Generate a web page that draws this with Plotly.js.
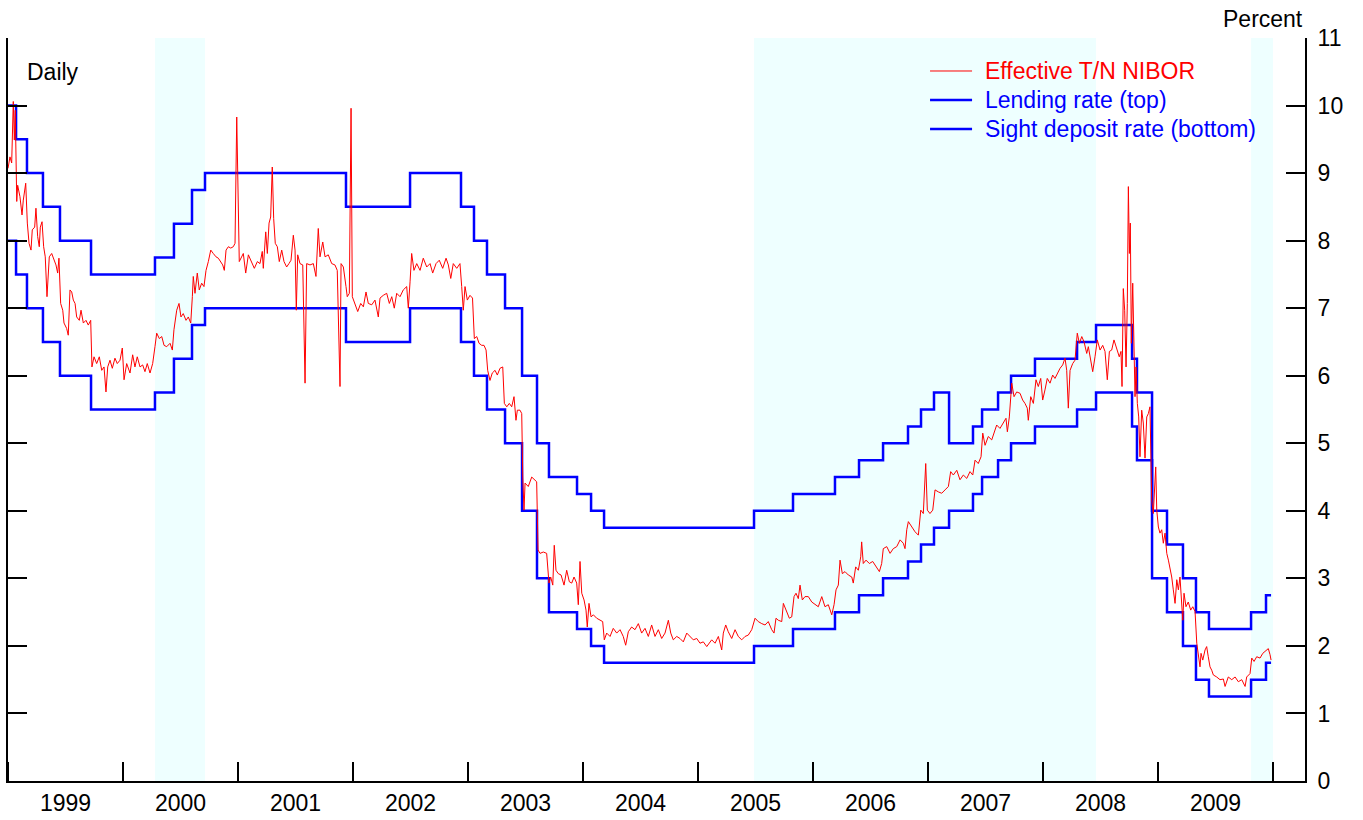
<!DOCTYPE html>
<html>
<head>
<meta charset="utf-8">
<script src="https://cdn.plot.ly/plotly-3.0.1.min.js"></script>
<style>html,body{margin:0;padding:0;background:#fff;}#chart{width:1363px;height:820px;}</style>
</head>
<body>
<div id="chart"></div>
<script>
// Time is in decimal years.
// Effective T/N NIBOR (daily)
const niborYear = [
1999.000,1999.017,1999.032,1999.046,1999.055,1999.063,1999.076,1999.084,1999.104,1999.122,1999.133,1999.154,1999.168,1999.183,1999.200,1999.211,1999.232,1999.243,1999.258,1999.272,1999.281,1999.296,1999.310,1999.324,1999.339,1999.359,1999.380,1999.400,1999.417,1999.432,1999.443,1999.458,1999.476,1999.487,1999.510,1999.524,1999.539,1999.554,1999.568,1999.583,1999.597,1999.620,1999.635,1999.655,1999.678,1999.698,1999.719,1999.730,1999.748,1999.771,1999.794,1999.815,1999.835,1999.852,1999.867,1999.887,1999.907,1999.930,1999.950,1999.974,1999.994,
2000.009,2000.032,2000.061,2000.084,2000.104,2000.124,2000.148,2000.171,2000.191,2000.211,2000.235,2000.258,2000.278,2000.293,2000.316,2000.337,2000.357,2000.380,2000.409,2000.429,2000.443,2000.467,2000.487,2000.504,2000.524,2000.548,2000.568,2000.589,2000.603,2000.611,2000.626,2000.646,2000.663,2000.684,2000.704,2000.722,2000.742,2000.763,2000.785,2000.809,2000.829,2000.850,2000.867,2000.881,2000.896,2000.916,2000.937,2000.959,2000.974,2000.989,
2001.011,2001.017,2001.046,2001.067,2001.090,2001.119,2001.142,2001.168,2001.191,2001.211,2001.220,2001.241,2001.255,2001.270,2001.284,2001.298,2001.310,2001.324,2001.342,2001.359,2001.380,2001.400,2001.423,2001.443,2001.461,2001.481,2001.496,2001.507,2001.519,2001.539,2001.563,2001.583,2001.597,2001.626,2001.655,2001.678,2001.698,2001.713,2001.737,2001.757,2001.785,2001.815,2001.843,2001.863,2001.887,2001.896,2001.916,2001.939,2001.950,2001.968,2001.983,2001.994,
2002.017,2002.041,2002.067,2002.090,2002.113,2002.133,2002.163,2002.191,2002.220,2002.235,2002.263,2002.293,2002.316,2002.337,2002.359,2002.380,2002.409,2002.437,2002.467,2002.481,2002.496,2002.510,2002.530,2002.554,2002.583,2002.611,2002.641,2002.670,2002.693,2002.722,2002.750,2002.780,2002.809,2002.829,2002.850,2002.872,2002.902,2002.930,2002.945,2002.959,2002.974,2002.994,
2003.017,2003.039,2003.055,2003.076,2003.096,2003.119,2003.139,2003.157,2003.171,2003.191,2003.211,2003.235,2003.255,2003.278,2003.302,2003.316,2003.337,2003.359,2003.380,2003.400,2003.417,2003.429,2003.452,2003.467,2003.476,2003.487,2003.496,2003.524,2003.554,2003.574,2003.597,2003.609,2003.626,2003.655,2003.684,2003.704,2003.719,2003.737,2003.750,2003.765,2003.785,2003.809,2003.835,2003.858,2003.881,2003.902,2003.922,2003.945,2003.959,2003.974,2003.989,
2004.009,2004.026,2004.037,2004.052,2004.070,2004.090,2004.119,2004.148,2004.171,2004.185,2004.206,2004.235,2004.263,2004.293,2004.322,2004.350,2004.371,2004.394,2004.423,2004.452,2004.481,2004.510,2004.539,2004.568,2004.597,2004.626,2004.655,2004.684,2004.713,2004.742,2004.763,2004.785,2004.815,2004.843,2004.872,2004.902,2004.930,2004.959,2004.989,
2005.017,2005.046,2005.076,2005.119,2005.148,2005.177,2005.206,2005.220,2005.241,2005.263,2005.293,2005.322,2005.350,2005.380,2005.409,2005.437,2005.467,2005.496,2005.524,2005.554,2005.583,2005.611,2005.641,2005.661,2005.678,2005.698,2005.728,2005.742,2005.771,2005.794,2005.815,2005.835,2005.852,2005.872,2005.887,2005.907,2005.930,2005.959,2005.989,
2006.017,2006.046,2006.076,2006.104,2006.133,2006.163,2006.183,2006.200,2006.220,2006.235,2006.255,2006.278,2006.307,2006.337,2006.350,2006.371,2006.394,2006.415,2006.423,2006.437,2006.461,2006.490,2006.519,2006.548,2006.577,2006.597,2006.611,2006.641,2006.670,2006.698,2006.728,2006.757,2006.785,2006.800,2006.815,2006.829,2006.858,2006.887,2006.916,2006.937,2006.959,2006.980,2006.994,
2007.017,2007.041,2007.061,2007.090,2007.119,2007.148,2007.177,2007.197,2007.220,2007.250,2007.278,2007.307,2007.337,2007.365,2007.389,2007.409,2007.437,2007.461,2007.476,2007.496,2007.524,2007.554,2007.583,2007.597,2007.626,2007.655,2007.678,2007.690,2007.707,2007.728,2007.748,2007.771,2007.800,2007.823,2007.843,2007.863,2007.872,2007.893,2007.916,2007.939,2007.959,2007.980,2007.997,
2008.017,2008.037,2008.061,2008.084,2008.104,2008.124,2008.148,2008.171,2008.191,2008.206,2008.220,2008.235,2008.258,2008.278,2008.298,2008.316,2008.337,2008.357,2008.380,2008.394,2008.415,2008.432,2008.452,2008.472,2008.496,2008.519,2008.539,2008.559,2008.577,2008.597,2008.617,2008.641,2008.663,2008.678,2008.687,2008.698,2008.710,2008.722,2008.733,2008.742,2008.751,2008.759,2008.768,2008.780,2008.791,2008.800,2008.809,2008.820,2008.832,2008.843,2008.858,2008.872,2008.887,2008.902,2008.916,2008.930,2008.945,2008.959,2008.980,2008.989,
2009.003,2009.017,2009.032,2009.046,2009.061,2009.076,2009.090,2009.104,2009.119,2009.133,2009.148,2009.163,2009.177,2009.191,2009.206,2009.215,2009.226,2009.243,2009.263,2009.284,2009.302,2009.322,2009.337,2009.351,2009.365,2009.374,2009.389,2009.409,2009.423,2009.437,2009.452,2009.467,2009.481,2009.510,2009.539,2009.568,2009.583,2009.611,2009.641,2009.670,2009.698,2009.728,2009.757,2009.771,2009.800,2009.815,2009.835,2009.858,2009.887,2009.911,2009.941,2009.959,2009.974,2009.983
];
const niborRate = [
9.07,9.24,9.15,10.06,9.49,9.93,8.58,8.82,8.65,8.38,8.60,8.85,8.26,7.96,7.86,8.16,8.20,8.48,8.06,7.91,8.20,8.28,7.91,7.76,7.17,7.76,7.81,7.71,7.64,7.52,7.74,7.07,6.97,6.78,6.70,6.60,7.27,7.24,7.12,7.07,6.87,6.82,6.97,6.78,6.82,6.75,6.82,6.13,6.28,6.18,6.28,6.08,6.13,5.76,6.13,6.23,6.11,6.26,6.18,6.23,6.41,
5.94,6.18,6.04,6.31,6.13,6.28,6.13,6.16,6.06,6.18,6.04,6.18,6.43,6.63,6.55,6.58,6.45,6.43,6.48,6.38,6.68,6.97,7.07,6.87,6.92,6.82,6.87,6.78,7.17,7.47,7.22,7.52,7.27,7.37,7.32,7.56,7.69,7.86,7.81,7.76,7.74,7.69,7.64,7.56,7.86,7.91,7.89,7.91,7.96,9.83,
7.69,7.71,7.81,7.52,7.79,7.69,7.59,7.69,7.66,7.84,7.59,8.13,7.81,8.26,8.35,9.09,8.33,7.96,7.91,7.69,7.86,7.69,7.61,7.66,7.71,8.08,7.86,6.97,7.79,7.66,7.64,5.89,7.66,7.64,7.66,7.47,8.18,7.76,7.98,7.76,7.79,7.66,7.64,7.56,5.84,7.66,7.61,7.32,7.17,7.22,9.96,7.17,
7.07,6.95,7.07,7.02,7.24,7.07,7.05,7.12,6.87,7.15,7.19,7.22,7.07,7.17,7.00,7.22,7.17,7.27,7.32,7.00,7.39,7.81,7.56,7.66,7.56,7.74,7.61,7.66,7.52,7.66,7.71,7.59,7.74,7.64,7.44,7.66,7.59,7.66,7.32,6.97,7.32,7.12,
7.19,7.15,6.55,6.58,6.48,6.45,6.45,6.38,6.08,5.93,6.04,6.08,6.01,6.11,6.13,5.59,5.54,5.59,5.54,5.69,5.34,5.49,5.49,5.44,4.50,4.01,4.41,4.36,4.50,4.46,4.43,3.42,3.37,3.39,3.37,2.93,3.02,2.90,3.49,3.12,3.07,3.05,2.90,3.12,2.95,2.93,3.02,2.93,2.61,3.25,2.78,
2.68,2.53,2.28,2.63,2.43,2.46,2.41,2.38,2.36,2.09,2.19,2.14,2.26,2.19,2.24,2.14,2.01,2.21,2.28,2.24,2.33,2.19,2.26,2.14,2.31,2.14,2.24,2.11,2.19,2.38,2.19,2.09,2.14,2.11,2.06,2.19,2.14,2.09,2.11,
2.04,2.06,1.99,2.09,2.04,2.14,1.94,2.19,2.31,2.21,2.11,2.24,2.14,2.09,2.14,2.16,2.24,2.41,2.36,2.33,2.31,2.36,2.24,2.19,2.41,2.38,2.36,2.63,2.51,2.41,2.43,2.73,2.78,2.70,2.90,2.68,2.73,2.73,2.65,
2.61,2.58,2.73,2.58,2.61,2.46,2.61,2.83,2.90,3.27,3.07,3.10,3.05,3.02,2.93,3.17,3.12,3.32,3.54,3.22,3.27,3.22,3.25,3.17,3.10,3.22,3.44,3.47,3.37,3.44,3.47,3.57,3.52,3.44,3.72,3.84,3.76,3.69,3.64,4.01,3.96,4.70,4.01,
3.96,4.01,4.31,4.28,4.26,4.31,4.36,4.58,4.53,4.60,4.46,4.53,4.48,4.58,4.53,4.75,4.70,4.80,5.15,4.97,5.10,5.05,5.20,5.27,5.22,5.30,5.37,5.17,5.39,5.89,5.69,5.76,5.74,5.64,5.59,5.52,5.34,5.69,5.59,5.94,5.84,5.96,5.64,
5.79,5.96,5.89,6.01,5.96,6.04,6.11,6.16,6.26,6.08,5.52,6.08,6.18,6.23,6.63,6.48,6.58,6.50,6.33,6.43,6.23,6.06,6.28,6.53,6.38,6.45,6.36,5.94,6.36,6.38,6.53,6.38,6.28,6.36,5.84,7.29,6.97,6.13,7.07,8.80,7.81,8.26,6.48,7.37,6.28,5.69,6.13,5.59,5.39,4.80,5.49,5.30,4.78,5.39,5.44,5.54,4.16,3.96,4.65,4.01,
3.76,3.67,3.72,3.52,3.67,3.37,3.27,3.17,3.02,2.83,2.63,2.98,2.83,3.02,2.68,2.38,2.78,2.58,2.65,2.53,2.58,2.51,2.04,1.84,1.69,1.89,1.79,1.94,1.99,1.84,1.69,1.64,1.57,1.54,1.50,1.51,1.40,1.54,1.50,1.54,1.47,1.50,1.40,1.54,1.59,1.82,1.77,1.84,1.82,1.89,1.94,1.96,1.87,1.79
];

// Policy rate corridor: dates of change (decimal years) and the new levels
const changeYear = [1999.000,1999.070,1999.165,1999.304,1999.452,1999.722,2000.278,2000.443,2000.600,2000.713,2001.939,2002.496,2002.939,2003.052,2003.165,2003.322,2003.470,2003.600,2003.704,2003.948,2004.070,2004.183,2005.487,2005.826,2006.191,2006.400,2006.609,2006.826,2006.939,2007.052,2007.183,2007.391,2007.470,2007.609,2007.722,2007.930,2008.296,2008.461,2008.774,2008.817,2008.948,2009.078,2009.217,2009.330,2009.443,2009.809,2009.939,2009.983];
const lendingRate = [10.0,9.5,9.0,8.5,8.0,7.5,7.75,8.25,8.75,9.0,8.5,9.0,8.5,8.0,7.5,7.0,6.0,5.0,4.5,4.25,4.0,3.75,4.0,4.25,4.5,4.75,5.0,5.25,5.5,5.75,5.0,5.25,5.5,5.75,6.0,6.25,6.5,6.75,6.25,5.75,4.0,3.5,3.0,2.5,2.25,2.5,2.75,2.75];
const sightDepositRate = [8.0,7.5,7.0,6.5,6.0,5.5,5.75,6.25,6.75,7.0,6.5,7.0,6.5,6.0,5.5,5.0,4.0,3.0,2.5,2.25,2.0,1.75,2.0,2.25,2.5,2.75,3.0,3.25,3.5,3.75,4.0,4.25,4.5,4.75,5.0,5.25,5.5,5.75,5.25,4.75,3.0,2.5,2.0,1.5,1.25,1.5,1.75,1.75];

// Shaded periods (start, end) in decimal years
const shadeStart = [2000.278, 2005.487, 2009.809];
const shadeEnd   = [2000.713, 2008.461, 2010.000];

// Axis labels and legend entries
const yearLabels = ['1999','2000','2001','2002','2003','2004','2005','2006','2007','2008','2009'];
const yTicks = [0,1,2,3,4,5,6,7,8,9,10,11];
const legendNames  = ['Effective T/N NIBOR', 'Lending rate (top)', 'Sight deposit rate (bottom)'];
const legendColors = ['#ff0000', '#0000ff', '#0000ff'];
const legendWidths = [1, 2.5, 2.5];

const FONT = 'Liberation Sans, Arial, sans-serif';
const FS = 23;

const traces = [
  {x: changeYear, y: lendingRate, type:'scatter', mode:'lines', line:{shape:'hv', color:'#0000ff', width:2.5}, name:legendNames[1]},
  {x: changeYear, y: sightDepositRate, type:'scatter', mode:'lines', line:{shape:'hv', color:'#0000ff', width:2.5}, name:legendNames[2]},
  {x: niborYear, y: niborRate, type:'scatter', mode:'lines', line:{color:'#ff0000', width:1}, name:legendNames[0]}
];

const shapes = shadeStart.map((s,i)=>({type:'rect', xref:'x', yref:'paper', x0:s, x1:shadeEnd[i], y0:0, y1:1,
  fillcolor:'#eeffff', line:{width:0}, layer:'below'}));

// Legend drawn as key lines + coloured text (paper coordinates)
const legX0 = 0.7109, legX1 = 0.7433, legTextX = 0.7517, legTop = 0.9556, legStep = 0.0391;
const annotations = [
  {text:'Percent', xref:'paper', yref:'paper', x:1, y:1, xanchor:'right', yanchor:'bottom', yshift:4, showarrow:false,
   font:{family:FONT, size:FS, color:'#000'}},
  {text:'Daily', xref:'paper', yref:'paper', x:0.0131, y:0.954, xanchor:'left', yanchor:'middle', showarrow:false,
   font:{family:FONT, size:FS, color:'#000'}}
];
legendNames.forEach((n,i)=>{
  const yy = legTop - i*legStep;
  shapes.push({type:'line', xref:'paper', yref:'paper', x0:legX0, x1:legX1, y0:yy, y1:yy,
    line:{color:legendColors[i], width:legendWidths[i]}});
  annotations.push({text:n, xref:'paper', yref:'paper', x:legTextX, y:yy, xanchor:'left', yanchor:'middle',
    showarrow:false, font:{family:FONT, size:FS, color:legendColors[i]}});
});

const layout = {
  width:1363, height:820,
  margin:{l:8, r:58, t:38, b:39},
  paper_bgcolor:'#ffffff', plot_bgcolor:'#ffffff',
  font:{family:FONT, size:FS, color:'#000'},
  showlegend:false,
  xaxis:{range:[1999, 2010.278], showgrid:false, zeroline:false, showline:true, linecolor:'#000', linewidth:2,
    tickmode:'array', tickvals: yearLabels.map(s=>+s+0.5), ticktext: yearLabels, ticks:'', ticklabelstandoff:0,
    tickfont:{family:FONT, size:FS, color:'#000'},
    minor:{dtick:1, tick0:0, ticks:'inside', ticklen:19, tickwidth:2, tickcolor:'#000', showgrid:false}},
  yaxis:{range:[0,11], side:'right', showgrid:false, zeroline:false, showline:true, linecolor:'#000', linewidth:2,
    mirror:'ticks', tickmode:'array', tickvals:yTicks, ticks:'inside', ticklen:19, tickwidth:2, tickcolor:'#000',
    ticklabelstandoff:6, tickfont:{family:FONT, size:FS, color:'#000'}},
  shapes: shapes,
  annotations: annotations
};

Plotly.newPlot('chart', traces, layout, {displayModeBar:false, staticPlot:true});
</script>
</body>
</html>
